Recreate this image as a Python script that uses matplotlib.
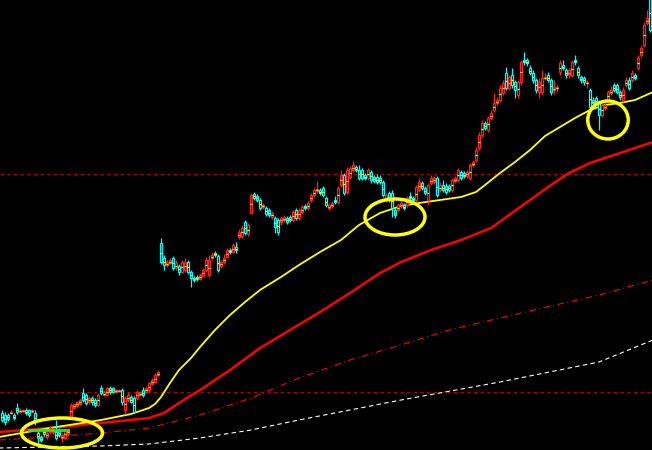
import matplotlib
matplotlib.use("Agg")
import matplotlib.pyplot as plt
from matplotlib.patches import Ellipse
import numpy as np

# OHLC per bar (price units, arbitrary scale)
opens = [37, 35, 35, 37, 35, 42, 38, 39, 40, 40, 38, 37, 17, 13, 20, 13, 18, 18, 18, 20, 12, 12, 16, 33,
         42, 44, 46, 57, 55, 48, 52, 50, 45, 62, 55, 55, 62, 62, 58, 59, 60, 40, 50, 53, 52, 52, 55, 60, 58, 60, 66, 68, 75,
         207, 192, 185, 187, 192, 182, 184, 178, 180, 188, 178, 172, 173, 171, 174, 180, 175, 192, 197, 194, 184, 188, 193, 200, 198, 203, 213, 214, 228, 216, 237, 256, 254, 250, 243,
         242, 240, 233, 232, 230, 228, 230, 232, 233, 230, 240, 232, 238, 244, 242, 250, 255, 259, 260, 262, 252, 242, 244, 250, 248, 265, 275, 258, 273, 280, 283, 280, 280, 275, 272, 278,
         273, 273, 272, 268, 250, 257, 257, 240, 240, 244, 245, 245, 254, 252, 250, 260, 267, 262, 250, 267, 268, 272, 260, 265, 264, 264, 260, 269, 270, 278, 277, 274, 272, 285, 290, 302,
         315, 327, 320, 332, 340, 347, 350, 357, 377, 362, 375, 368, 355, 368, 390, 390, 382, 377, 370, 358, 358, 372, 375, 370, 360, 362, 378, 385, 380, 375, 375, 390, 382, 373, 372, 367,
         360, 350, 352, 347, 335, 342, 350, 357, 365, 365, 358, 350, 365, 370, 370, 375, 382, 395, 405, 427, 455]
closes = [30, 28, 31, 38, 32, 38, 40, 40, 37, 35, 40, 28, 12, 10, 16, 17, 22, 20, 12, 15, 15, 20, 20, 45,
          46, 48, 50, 50, 47, 52, 48, 45, 55, 57, 58, 62, 58, 58, 60, 60, 48, 52, 55, 48, 38, 58, 58, 55, 62, 67, 70, 75, 78,
          188, 185, 188, 190, 182, 187, 178, 188, 188, 178, 172, 170, 171, 175, 180, 190, 190, 195, 195, 180, 188, 192, 200, 198, 205, 200, 218, 222, 217, 225, 255, 252, 250, 242, 245,
          236, 235, 237, 223, 218, 232, 233, 228, 230, 238, 232, 240, 243, 242, 247, 255, 260, 261, 257, 255, 245, 245, 247, 248, 262, 275, 257, 280, 282, 285, 280, 272, 272, 272, 280, 270,
          269, 268, 268, 255, 255, 250, 242, 235, 245, 247, 242, 252, 252, 250, 263, 268, 262, 257, 265, 272, 272, 255, 265, 260, 258, 260, 270, 272, 280, 272, 274, 278, 285, 288, 300, 315,
          327, 322, 332, 337, 347, 350, 362, 367, 362, 373, 365, 360, 368, 388, 388, 387, 377, 370, 360, 368, 372, 373, 370, 358, 363, 363, 387, 382, 375, 380, 388, 388, 375, 370, 368, 368,
          343, 347, 347, 335, 345, 345, 358, 360, 360, 358, 353, 360, 370, 362, 377, 372, 392, 402, 425, 432, 420]
highs = [40, 38, 37, 40, 37, 47, 42, 41, 42, 41, 41, 40, 22, 15, 22, 19, 24, 22, 30, 22, 17, 22, 22, 47,
         47, 49, 52, 62, 57, 54, 54, 52, 57, 65, 60, 63, 64, 63, 61, 61, 62, 54, 58, 55, 54, 60, 59, 63, 63, 68, 72, 77, 80,
         212, 195, 190, 192, 194, 190, 186, 190, 192, 190, 180, 174, 175, 177, 182, 193, 195, 198, 199, 196, 190, 196, 202, 202, 207, 208, 221, 225, 230, 227, 257, 258, 256, 252, 247,
         244, 242, 239, 234, 232, 234, 235, 234, 235, 240, 242, 242, 245, 246, 249, 257, 262, 269, 262, 264, 254, 247, 249, 254, 264, 280, 277, 283, 284, 289, 285, 285, 282, 277, 282, 280,
         275, 276, 275, 270, 257, 259, 260, 242, 247, 249, 247, 254, 258, 254, 265, 272, 269, 264, 267, 275, 274, 274, 268, 270, 267, 266, 272, 274, 282, 280, 279, 280, 287, 290, 303, 318,
         330, 329, 334, 340, 357, 353, 365, 370, 383, 375, 382, 370, 370, 390, 398, 392, 385, 380, 372, 372, 380, 377, 378, 372, 370, 365, 390, 390, 382, 382, 390, 395, 384, 375, 374, 370,
         362, 353, 354, 350, 347, 347, 360, 364, 367, 367, 360, 363, 373, 373, 380, 377, 395, 405, 428, 440, 460]
lows = [28, 25, 29, 36, 30, 36, 37, 38, 35, 33, 37, 25, 5, 8, 14, 11, 16, 16, 10, 13, 8, 10, 14, 31,
        41, 43, 45, 48, 45, 46, 45, 43, 44, 55, 54, 54, 56, 57, 57, 58, 45, 36, 48, 47, 37, 50, 54, 53, 57, 58, 65, 67, 74,
        186, 180, 183, 186, 180, 180, 175, 177, 178, 176, 163, 168, 169, 170, 173, 178, 173, 190, 193, 178, 182, 186, 192, 196, 197, 197, 211, 212, 215, 214, 236, 250, 248, 240, 241,
        234, 233, 231, 217, 215, 225, 228, 226, 228, 228, 230, 230, 236, 240, 240, 248, 253, 257, 255, 253, 243, 240, 242, 246, 246, 263, 255, 256, 271, 278, 278, 270, 270, 270, 270, 267,
        267, 266, 266, 253, 248, 248, 233, 232, 238, 242, 240, 243, 250, 248, 248, 258, 260, 255, 245, 265, 266, 253, 258, 258, 256, 258, 258, 267, 268, 270, 272, 272, 270, 283, 288, 300,
        313, 320, 318, 330, 338, 345, 348, 355, 360, 360, 362, 352, 352, 365, 385, 384, 375, 367, 357, 352, 355, 370, 368, 355, 356, 358, 375, 380, 372, 372, 373, 385, 372, 367, 365, 362,
        341, 345, 345, 320, 333, 340, 348, 355, 358, 356, 350, 348, 363, 360, 368, 370, 380, 393, 403, 425, 418]

# moving averages (bar index, price)
ma_yellow_x = [-1, 16, 33, 43, 49, 51, 53, 56, 59, 63, 66, 71, 76, 81, 86, 93, 99, 106, 113, 119, 126, 133,
               139, 146, 153, 158, 161, 166, 171, 176, 181, 186, 191, 196, 201, 206, 211, 217]
ma_yellow_y = [13, 22, 30, 36, 42, 46, 53, 67, 80, 92, 103, 120, 135, 148, 160, 173, 185, 198, 210, 225, 237, 244,
               247, 250, 253, 258, 265, 277, 288, 300, 314, 323, 332, 340, 345, 347, 350, 358]
ma_red_x = [-1, 16, 33, 49, 54, 59, 66, 76, 86, 96, 106, 116, 126, 133, 143, 153, 163, 169, 176, 183, 189, 196, 203, 209, 217]
ma_red_y = [18, 22, 27, 32, 37, 47, 60, 80, 102, 120, 138, 157, 177, 188, 200, 210, 222, 235, 250, 265, 277, 287, 294, 300, 308]
ma_dash_x = [-1, 16, 33, 49, 66, 83, 99, 116, 133, 149, 166, 183, 199, 217]
ma_dash_y = [10, 13, 17, 22, 35, 52, 72, 90, 105, 120, 132, 144, 155, 170]
ma_white_x = [-1, 33, 49, 66, 83, 99, 133, 166, 199, 217]
ma_white_y = [2, 4, 6, 12, 20, 30, 50, 68, 88, 110]

level_lines = [276, 58]
green_segments = [(9, 16, 20.5), (17, 22, 20.5)]
circles = [(20, 17, 27, 30), (131, 233, 20, 36), (202, 330, 13.5, 38)]

fig = plt.figure(figsize=(6.52, 4.5), dpi=100, facecolor="black")
ax = fig.add_axes([0, 0, 1, 1])
ax.set_facecolor("black")

x = np.arange(len(opens))
o = np.array(opens, float)
c = np.array(closes, float)
up = c >= o
cols = np.where(up, "#ff2020", "#00ffff")

for lvl in level_lines:
    ax.axhline(lvl, color="#b00000", lw=0.8, ls=(0, (3, 3)), zorder=1)

ax.plot(ma_white_x, ma_white_y, color="white", lw=0.8, ls=(0, (4, 3)), zorder=1)
ax.plot(ma_dash_x, ma_dash_y, color="#ff0000", lw=0.8, ls=(0, (6, 3, 1, 3)), zorder=1)
ax.plot(ma_red_x, ma_red_y, color="#ff0000", lw=1.8, zorder=1, solid_joinstyle="round")
ax.plot(ma_yellow_x, ma_yellow_y, color="#ffff00", lw=1.3, zorder=1, solid_joinstyle="round")

ax.vlines(x, lows, highs, colors=cols, lw=0.9, zorder=2)
bottoms = np.minimum(o, c)
heights = np.maximum(np.abs(c - o), 1)
ax.bar(x, heights, bottom=bottoms, width=0.75, color="black", edgecolor=cols, linewidth=0.9, zorder=3)
mids = bottoms + heights / 2
ax.hlines(mids, x - 0.4, x + 0.4, colors="#ffff00", lw=0.9, zorder=4)

for x0, x1, yv in green_segments:
    ax.plot([x0, x1], [yv, yv], color="#00ff00", lw=2, zorder=4)

for cx, cy, w, h in circles:
    ax.add_patch(Ellipse((cx, cy), w, h, fill=False, edgecolor="#ffff00", lw=2.5, zorder=5))

ax.set_xlim(-0.67, 216.67)
ax.set_ylim(0, 450)
ax.axis("off")

fig.savefig("out.png", dpi=100, facecolor="black")
